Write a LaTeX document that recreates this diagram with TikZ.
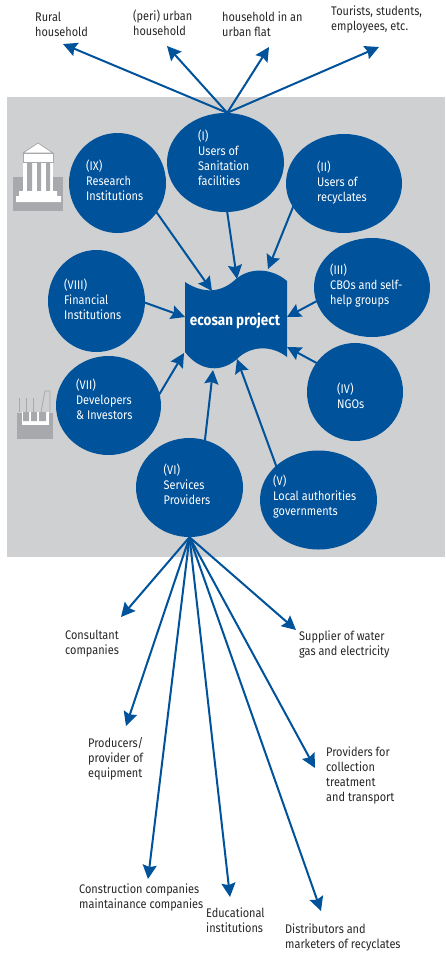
\documentclass[tikz,border=0pt]{standalone}
\usepackage{fontspec}
\setmainfont[FakeStretch=0.875]{Fira Sans}
\usetikzlibrary{arrows.meta,shapes.geometric}
\definecolor{eblue}{HTML}{00529B}
\definecolor{egray}{HTML}{CFD0D2}
\definecolor{icong}{HTML}{A7A9AC}
\tikzset{
  x=1pt,y=-1pt,
  actor/.style={ellipse,fill=eblue,draw=none,inner sep=0pt},
  actortext/.style={anchor=north west,inner sep=0pt,align=left,text=white,font=\fontsize{12.5}{15}\selectfont},
  plain/.style={anchor=north west,inner sep=0pt,align=left,text=black!85,font=\fontsize{12.5}{15}\selectfont},
  link/.style={draw=eblue,line width=2pt,-{Stealth[length=14pt,width=14pt,inset=2pt]},shorten <=-1pt},
}
\begin{document}
\begin{tikzpicture}
\useasboundingbox (0,0) rectangle (445,954);
\fill[egray] (7,97) rectangle (445,557);
% ecosan shape
\fill[eblue] (185,282) .. controls (197,290) and (217,297) .. (236,279) .. controls (250,267) and (272,268) .. (287,281) -- (287,357) .. controls (272,345) and (250,345) .. (236,360) .. controls (217,375) and (197,368) .. (185,352) -- cycle;
\node[inner sep=0pt,text=white,font=\fontsize{15.4}{17}\selectfont\bfseries] (eco) at (235,320.5) {ecosan project};
% ends on the shape
\coordinate (e1) at (212,291);
\coordinate (e2) at (237,279);
\coordinate (e3) at (268,269);
\coordinate (e4) at (287,317);
\coordinate (e5) at (287,347);
\coordinate (e6) at (237,359);
\coordinate (e7) at (213,370);
\coordinate (e8) at (184,353);
\coordinate (e9) at (185,317);
% ellipses
\node[actor,minimum width=117pt,minimum height=99pt] (n1) at (225.5,162.5) {};
\node[actor,minimum width=116pt,minimum height=99pt] (n2) at (344,183.5) {};
\node[actor,minimum width=116pt,minimum height=99pt] (n3) at (372,287.5) {};
\node[actor,minimum width=96pt,minimum height=98pt] (n4) at (355,392) {};
\node[actor,minimum width=117pt,minimum height=99pt] (n5) at (318.5,500) {};
\node[actor,minimum width=107pt,minimum height=99pt] (n6) at (189.5,487.5) {};
\node[actor,minimum width=105pt,minimum height=99pt] (n7) at (108.5,405.5) {};
\node[actor,minimum width=97pt,minimum height=102pt] (n8) at (96.5,301) {};
\node[actor,minimum width=97pt,minimum height=100pt] (n9) at (117.5,183) {};
% inner labels
\node[actortext] (t1) at (198,129.5) {(I)\\Users of\\Sanitation\\facilities};
\node[actortext] (t2) at (317,160.5) {(II)\\Users of\\recyclates};
\node[actortext] (t3) at (330,263.5) {(III)\\CBOs and self-\\help groups};
\node[actortext] (t4) at (337,382.5) {(IV)\\NGOs};
\node[actortext] (t5) at (273,475) {(V)\\Local authorities\\governments};
\node[actortext] (t6) at (163.5,464) {(VI)\\Services\\Providers};
\node[actortext] (t7) at (76,378.5) {(VII)\\Developers\\\& Investors};
\node[actortext] (t8) at (64,279) {(VIII)\\Financial\\Institutions};
\node[actortext] (t9) at (86,159.5) {(IX)\\Research\\Institutions};
% inward arrows
\draw[link] (n9.-37) -- (e1);
\draw[link] (n1.-88) -- (e2);
\draw[link] (n2.-155) -- (e3);
\draw[link] (n3.194) -- (e4);
\draw[link] (n4.143) -- (e5);
\draw[link] (n5.141) -- (e6);
\draw[link] (n6.72) -- (e7);
\draw[link] (n7.13) -- (e8);
\draw[link] (n8.-2) -- (e9);
% top group
\node[plain] (a1) at (35,12) {Rural\\household};
\node[plain] (a2) at (133,10) {(peri) urban\\household};
\node[plain] (a3) at (222,12) {household in an\\urban flat};
\node[plain] (a4) at (331,6) {Tourists, students,\\employees, etc.};
\coordinate (a1e) at (63,44);
\coordinate (a2e) at (167,46);
\coordinate (a3e) at (269,47);
\coordinate (a4e) at (379,47);
\foreach \e in {a1e,a2e,a3e,a4e} \draw[link] (n1.88) -- (\e);
% bottom group
\node[plain] (b1) at (65,630) {Consultant\\companies};
\node[plain] (b2) at (88,737) {Producers/\\provider of\\equipment};
\node[plain] (b3) at (79,884) {Construction companies\\maintainance companies};
\node[plain] (b4) at (206,908) {Educational\\institutions};
\node[plain] (b5) at (285,924) {Distributors and\\marketers of recyclates};
\node[plain] (b6) at (326,747) {Providers for\\collection\\treatment\\and transport};
\node[plain] (b7) at (299,631) {Supplier of water\\gas and electricity};
\coordinate (b1e) at (121,617);
\coordinate (b2e) at (126,726);
\coordinate (b3e) at (148,879);
\coordinate (b4e) at (230,897);
\coordinate (b5e) at (321,911);
\coordinate (b6e) at (315,768);
\coordinate (b7e) at (296,630);
\foreach \e in {b1e,b2e,b3e,b4e,b5e,b6e,b7e} \draw[link] (n6.south) -- (\e);
% bank icon
\fill[icong] (13,177) rectangle (63,211);
\fill[white] (23,162) rectangle (53,191);
\fill[icong] (27,162) rectangle (32,191) (37,162) rectangle (41,191) (46,162) rectangle (50,191);
\fill[white,draw=icong,line width=.8pt] (23,153) -- (38,143) -- (53,153) -- cycle;
\fill[white,draw=icong,line width=.8pt] (23,153) rectangle (53,162);
\fill[white] (19,191) rectangle (57,196) (16,196) rectangle (61,202);
% factory icon
\fill[icong] (17,413) rectangle (53,439);
\fill[white] (22,412) rectangle (49,425);
\fill[icong] (23,412) rectangle (29,421) (31,412) rectangle (37,421) (39,412) rectangle (46,421);
\draw[icong,line width=.8pt] (19,412) -- (19,398) (26,412) -- (26,398) (33,412) -- (33,398);
\draw[icong,line width=.8pt] (41,412) -- (45,391) -- (50,391) -- (50,412);
\end{tikzpicture}
\end{document}
